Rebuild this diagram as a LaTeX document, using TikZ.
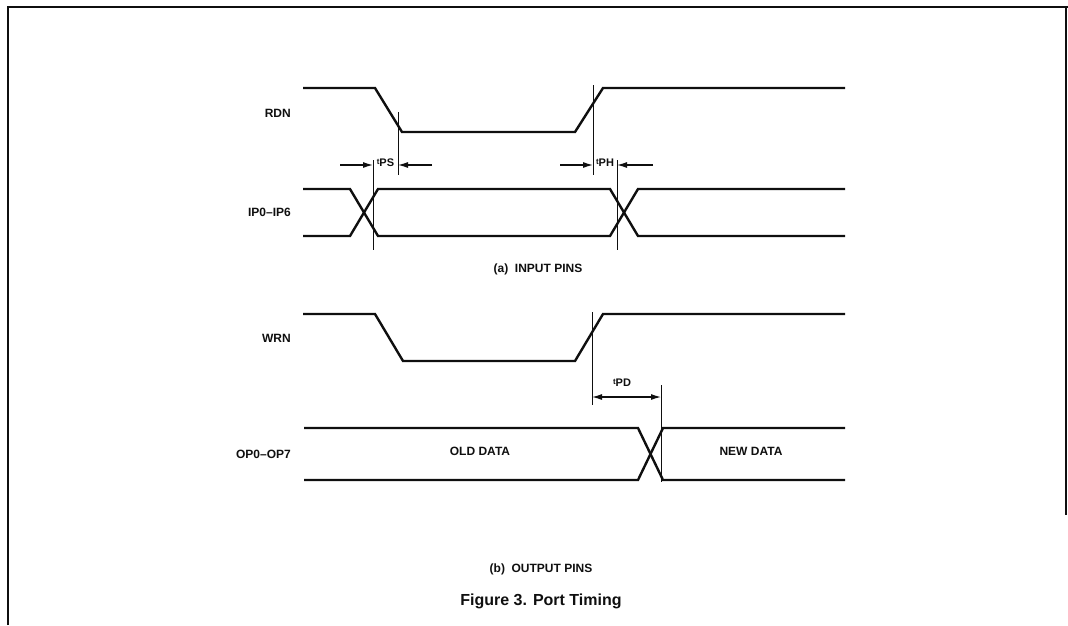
\documentclass[tikz,border=0pt]{standalone}
\usepackage{fontspec}
\setmainfont{Liberation Sans}
\usetikzlibrary{arrows.meta}
\definecolor{inkblack}{RGB}{15, 15, 15}
\newcommand{\tsym}[1]{\raisebox{2.5pt}{\fontsize{8}{8}\selectfont t}\fontsize{11}{12}\selectfont #1}

\begin{document}
\begin{tikzpicture}[x=1pt,y=-1pt,
    wave/.style={inkblack,line width=2.4pt,line join=miter},
    refline/.style={inkblack,line width=0.9pt},
    dimarrow/.style={inkblack,line width=1.2pt,-{Latex[length=10pt,width=6pt]}},
    lbl/.style={inkblack,font=\fontsize{12}{14}\selectfont\bfseries,inner sep=1pt},
    caption/.style={inkblack,font=\fontsize{16}{18}\selectfont\bfseries,inner sep=1pt}]
            \useasboundingbox (0,0) rectangle (1068,625);
            \draw[inkblack,line width=1.4pt] (8,625) -- (8,7) -- (1068,7);
            \draw[inkblack,line width=1.4pt] (1066,7) -- (1066,515);

            % (a) input pins
            \draw[wave] (303,88) -- (375,88) -- (402,132) -- (575,132) -- (603,88) -- (845,88);
            \node[lbl,anchor=east] (rdn) at (292,113) {RDN};

            \draw[wave] (303,189) -- (350,189) -- (378,236) -- (610,236) -- (638,189) -- (845,189);
            \draw[wave] (303,236) -- (350,236) -- (378,189) -- (610,189) -- (638,236) -- (845,236);
            \node[lbl,anchor=east] (ipins) at (292,212) {IP0--IP6};

            \draw[refline] (398,112) -- (398,175);
            \draw[refline] (373,160) -- (373,250);
            \draw[refline] (593,85) -- (593,175);
            \draw[refline] (617,160) -- (617,250);

            \coordinate (psl) at (340,165);
            \coordinate (psa) at (373,165);
            \coordinate (psb) at (398,165);
            \coordinate (psr) at (432,165);
            \draw[dimarrow] (psl) -- (psa);
            \draw[dimarrow] (psr) -- (psb);
            \node[lbl] (tps) at (385.5,163) {\tsym{PS}};

            \coordinate (phl) at (560,165);
            \coordinate (pha) at (593,165);
            \coordinate (phb) at (617,165);
            \coordinate (phr) at (653,165);
            \draw[dimarrow] (phl) -- (pha);
            \draw[dimarrow] (phr) -- (phb);
            \node[lbl] (tph) at (605,163) {\tsym{PH}};

            \node[lbl] (capa) at (538,269) {(a)\ \ INPUT PINS};

            % (b) output pins
            \draw[wave] (303,314) -- (375,314) -- (403,361) -- (575,361) -- (603,314) -- (845,314);
            \node[lbl,anchor=east] (wrn) at (292,338) {WRN};

            \draw[refline] (592,312) -- (592,405);
            \draw[refline] (661,385) -- (661,482);
            \coordinate (pdl) at (592,397);
            \coordinate (pdr) at (661,397);
            \draw[dimarrow,{Latex[length=10pt,width=6pt]}-{Latex[length=10pt,width=6pt]}] (pdl) -- (pdr);
            \node[lbl] (tpd) at (622,383) {\tsym{PD}};

            \draw[wave] (304,428) -- (638,428) -- (663,480) -- (845,480);
            \draw[wave] (304,480) -- (638,480) -- (663,428) -- (845,428);
            \node[lbl,anchor=east] (opins) at (292,454) {OP0--OP7};
            \node[lbl] (olddata) at (480,451) {OLD DATA};
            \node[lbl] (newdata) at (751,451) {NEW DATA};

            \node[lbl] (capb) at (541,569) {(b)\ \ OUTPUT PINS};
            \node[caption] (figcap) at (541,601) {Figure 3. Port Timing};
        \end{tikzpicture}
\end{document}
